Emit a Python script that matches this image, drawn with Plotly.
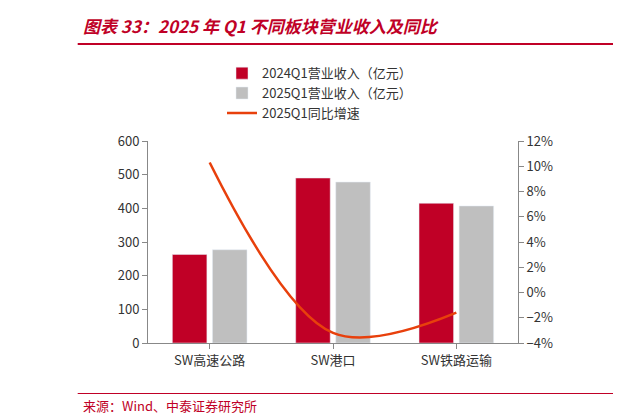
import plotly.graph_objects as go

cats = ["SW高速公路", "SW港口", "SW铁路运输"]
rev_2024 = [263, 490, 415]
rev_2025 = [277, 478, 407]
yoy = [10.3, -3.2, -1.6]

font = "Noto Sans CJK SC"
fig = go.Figure()
fig.add_trace(go.Bar(x=cats, y=rev_2024, name="2024Q1营业收入（亿元）", marker_color="#C00026", width=0.28, offsetgroup=0))
fig.add_trace(go.Bar(x=cats, y=rev_2025, name="2025Q1营业收入（亿元）", marker_color="#BFBFBF", width=0.28, offsetgroup=1))
fig.add_trace(go.Scatter(x=cats, y=yoy, name="2025Q1同比增速", mode="lines", yaxis="y2",
                         line=dict(color="#E8400C", width=2.5, shape="spline", smoothing=1.0)))

fig.update_layout(
    width=621, height=417, plot_bgcolor="white", paper_bgcolor="white",
    margin=dict(l=140, r=111, t=133, b=82),
    bargap=0.35, bargroupgap=0.0,
    font=dict(family=font, size=13, color="#333"),
    xaxis=dict(showline=True, linecolor="#888", ticks="outside", tickcolor="#888", tickfont=dict(size=13)),
    yaxis=dict(range=[0, 600], dtick=100, showgrid=False, showline=True, linecolor="#888",
               ticks="outside", tickcolor="#888", tickfont=dict(size=13)),
    yaxis2=dict(range=[-4, 12], dtick=2, overlaying="y", side="right", showgrid=False, showline=True,
                linecolor="#888", ticks="outside", tickcolor="#888", ticksuffix="%", tickfont=dict(size=13)),
    legend=dict(x=0.2, y=1.41, xanchor="left", yanchor="top", bgcolor="rgba(0,0,0,0)",
                font=dict(size=13), tracegroupgap=0),
    shapes=[
        dict(type="line", xref="paper", yref="paper", x0=-0.19, x1=1.27, y0=1.48, y1=1.48,
             line=dict(color="#C00026", width=2)),
        dict(type="line", xref="paper", yref="paper", x0=-0.19, x1=1.27, y0=-0.25, y1=-0.25,
             line=dict(color="#C00026", width=1)),
    ],
)
fig.add_annotation(text="<b><i>图表 33：2025 年 Q1 不同板块营业收入及同比</i></b>", x=-0.18, y=1.57,
                   xref="paper", yref="paper", xanchor="left", yanchor="middle", showarrow=False,
                   font=dict(size=17, color="#C00026"))
fig.add_annotation(text="来源：Wind、中泰证券研究所", x=-0.18, y=-0.31, xref="paper", yref="paper",
                   xanchor="left", yanchor="middle", showarrow=False, font=dict(size=13, color="#C00026"))
fig.write_html("out.html")
